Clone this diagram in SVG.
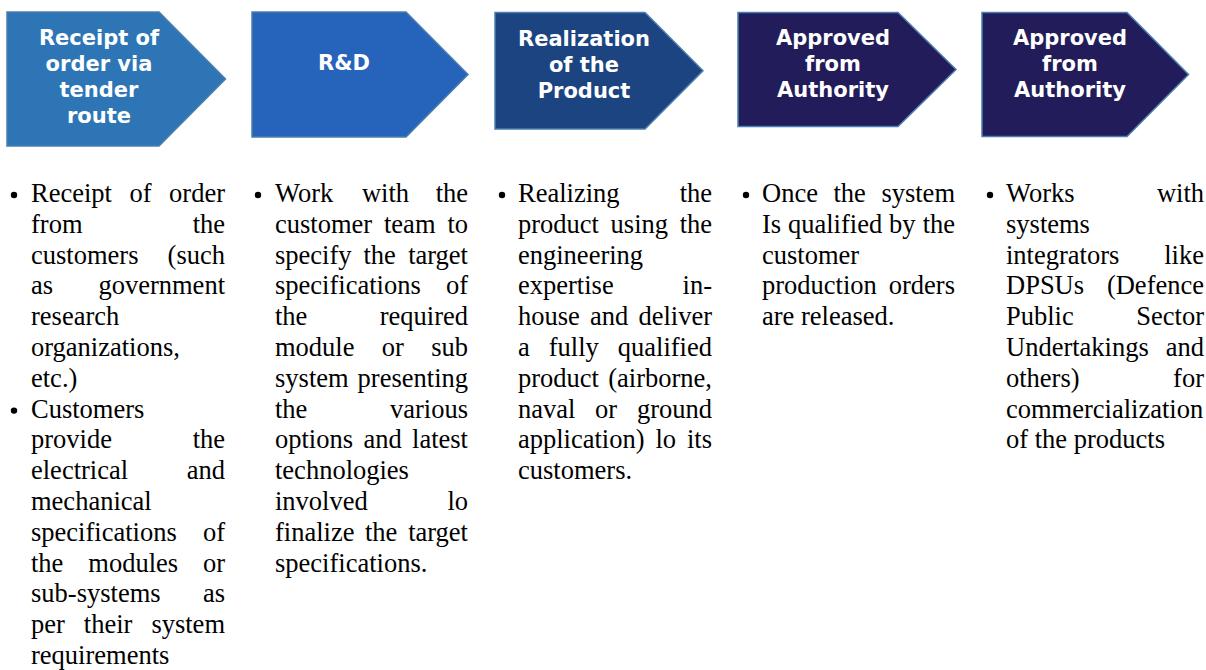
<svg xmlns="http://www.w3.org/2000/svg" width="1206" height="670" viewBox="0 0 1206 670">
<style>
.chev { stroke: #4A7EAE; stroke-width: 1.5; stroke-linejoin: miter; }
.h { font-family: "DejaVu Sans", Verdana, sans-serif; font-weight: bold; font-size: 21px; fill: #FFFFFF; text-anchor: middle; }
.b { font-family: "Liberation Serif", "Times New Roman", serif; font-size: 26.5px; fill: #000000; }
.r { text-anchor: end; }
.dot { fill: #000000; }
</style>
<rect width="1206" height="670" fill="#FFFFFF"/>

<g id="step1">
<polygon class="chev" fill="#2E75B6" points="7,12 159,12 225.5,79 159,146 7,146"/>
<text class="h" x="99" y="45">Receipt of</text>
<text class="h" x="99" y="71">order via</text>
<text class="h" x="99" y="97">tender</text>
<text class="h" x="99" y="123">route</text>
</g>
<g id="step2">
<polygon class="chev" fill="#2663BA" points="252,12 406,12 468,74.5 406,137 252,137"/>
<text class="h" x="344" y="70">R&amp;D</text>
</g>
<g id="step3">
<polygon class="chev" fill="#1C4480" points="495,12.5 645,12.5 703,70.8 645,129 495,129"/>
<text class="h" x="584" y="46">Realization</text>
<text class="h" x="584" y="72">of the</text>
<text class="h" x="584" y="98">Product</text>
</g>
<g id="step4">
<polygon class="chev" fill="#231C5A" points="738,12.5 898,12.5 956,69.5 898,126.5 738,126.5"/>
<text class="h" x="833" y="45">Approved</text>
<text class="h" x="833" y="71">from</text>
<text class="h" x="833" y="97">Authority</text>
</g>
<g id="step5">
<polygon class="chev" fill="#231C5A" points="982,12.5 1127,12.5 1188.5,74.5 1127,136.5 982,136.5"/>
<text class="h" x="1070" y="45">Approved</text>
<text class="h" x="1070" y="71">from</text>
<text class="h" x="1070" y="97">Authority</text>
</g>

<g id="desc1">
<circle class="dot" cx="14" cy="195" r="3.2"/>
<text class="b" y="202"><tspan x="31">Receipt</tspan><tspan x="129.5">of</tspan></text><text class="b r" x="225" y="202">order</text>
<text class="b" x="31" y="232.8">from</text><text class="b r" x="225" y="232.8">the</text>
<text class="b" x="31" y="263.6">customers</text><text class="b r" x="225" y="263.6">(such</text>
<text class="b" x="31" y="294.4">as</text><text class="b r" x="225" y="294.4">government</text>
<text class="b" x="31" y="325.2">research</text>
<text class="b" x="31" y="356">organizations,</text>
<text class="b" x="31" y="386.8">etc.)</text>
<circle class="dot" cx="14" cy="410.6" r="3.2"/>
<text class="b" x="31" y="417.6">Customers</text>
<text class="b" x="31" y="448.4">provide</text><text class="b r" x="225" y="448.4">the</text>
<text class="b" x="31" y="479.2">electrical</text><text class="b r" x="225" y="479.2">and</text>
<text class="b" x="31" y="510">mechanical</text>
<text class="b" x="31" y="540.8">specifications</text><text class="b r" x="225" y="540.8">of</text>
<text class="b" y="571.6"><tspan x="31">the</tspan><tspan x="88.3">modules</tspan></text><text class="b r" x="225" y="571.6">or</text>
<text class="b" x="31" y="602.4">sub-systems</text><text class="b r" x="225" y="602.4">as</text>
<text class="b" y="633.2"><tspan x="31">per</tspan><tspan x="83.8">their</tspan></text><text class="b r" x="225" y="633.2">system</text>
<text class="b" x="31" y="664">requirements</text>
</g>

<g id="desc2">
<circle class="dot" cx="258" cy="195" r="3.2"/>
<text class="b" y="202"><tspan x="275">Work</tspan><tspan x="361.9">with</tspan></text><text class="b r" x="468" y="202">the</text>
<text class="b" y="232.8"><tspan x="275">customer</tspan><tspan x="384">team</tspan></text><text class="b r" x="468" y="232.8">to</text>
<text class="b" y="263.6"><tspan x="275">specify</tspan><tspan x="363.4">the</tspan></text><text class="b r" x="468" y="263.6">target</text>
<text class="b" x="275" y="294.4">specifications</text><text class="b r" x="468" y="294.4">of</text>
<text class="b" x="275" y="325.2">the</text><text class="b r" x="468" y="325.2">required</text>
<text class="b" y="356"><tspan x="275">module</tspan><tspan x="381.8">or</tspan></text><text class="b r" x="468" y="356">sub</text>
<text class="b" x="275" y="386.8">system</text><text class="b r" x="468" y="386.8">presenting</text>
<text class="b" x="275" y="417.6">the</text><text class="b r" x="468" y="417.6">various</text>
<text class="b" y="448.4"><tspan x="275">options</tspan><tspan x="363.4">and</tspan></text><text class="b r" x="468" y="448.4">latest</text>
<text class="b" x="275" y="479.2">technologies</text>
<text class="b" x="275" y="510">involved</text><text class="b r" x="468" y="510">lo</text>
<text class="b" y="540.8"><tspan x="275">finalize</tspan><tspan x="364.9">the</tspan></text><text class="b r" x="468" y="540.8">target</text>
<text class="b" x="275" y="571.6">specifications.</text>
</g>

<g id="desc3">
<circle class="dot" cx="502" cy="195" r="3.2"/>
<text class="b" x="518" y="202">Realizing</text><text class="b r" x="712" y="202">the</text>
<text class="b" y="232.8"><tspan x="518">product</tspan><tspan x="610.6">using</tspan></text><text class="b r" x="712" y="232.8">the</text>
<text class="b" x="518" y="263.6">engineering</text>
<text class="b" x="518" y="294.4">expertise</text><text class="b r" x="712" y="294.4">in-</text>
<text class="b" y="325.2"><tspan x="518">house</tspan><tspan x="590">and</tspan></text><text class="b r" x="712" y="325.2">deliver</text>
<text class="b" y="356"><tspan x="518">a</tspan><tspan x="548.8">fully</tspan></text><text class="b r" x="712" y="356">qualified</text>
<text class="b" x="518" y="386.8">product</text><text class="b r" x="712" y="386.8">(airborne,</text>
<text class="b" y="417.6"><tspan x="518">naval</tspan><tspan x="595.1">or</tspan></text><text class="b r" x="712" y="417.6">ground</text>
<text class="b" y="448.4"><tspan x="518">application)</tspan><tspan x="655.5">lo</tspan></text><text class="b r" x="712" y="448.4">its</text>
<text class="b" x="518" y="479.2">customers.</text>
</g>

<g id="desc4">
<circle class="dot" cx="746" cy="195" r="3.2"/>
<text class="b" y="202"><tspan x="762">Once</tspan><tspan x="833.5">the</tspan></text><text class="b r" x="955" y="202">system</text>
<text class="b" y="232.8"><tspan x="762">Is</tspan><tspan x="788">qualified</tspan><tspan x="889.1">by</tspan></text><text class="b r" x="955" y="232.8">the</text>
<text class="b" x="762" y="263.6">customer</text>
<text class="b" x="762" y="294.4">production</text><text class="b r" x="955" y="294.4">orders</text>
<text class="b" x="762" y="325.2">are released.</text>
</g>

<g id="desc5">
<circle class="dot" cx="990" cy="195" r="3.2"/>
<text class="b" x="1006" y="202">Works</text><text class="b r" x="1204" y="202">with</text>
<text class="b" x="1006" y="232.8">systems</text>
<text class="b" x="1006" y="263.6">integrators</text><text class="b r" x="1204" y="263.6">like</text>
<text class="b" x="1006" y="294.4">DPSUs</text><text class="b r" x="1204" y="294.4">(Defence</text>
<text class="b" x="1006" y="325.2">Public</text><text class="b r" x="1204" y="325.2">Sector</text>
<text class="b" x="1006" y="356">Undertakings</text><text class="b r" x="1204" y="356">and</text>
<text class="b" x="1006" y="386.8">others)</text><text class="b r" x="1204" y="386.8">for</text>
<text class="b" x="1006" y="417.6">commercialization</text>
<text class="b" x="1006" y="448.4">of the products</text>
</g>
</svg>
